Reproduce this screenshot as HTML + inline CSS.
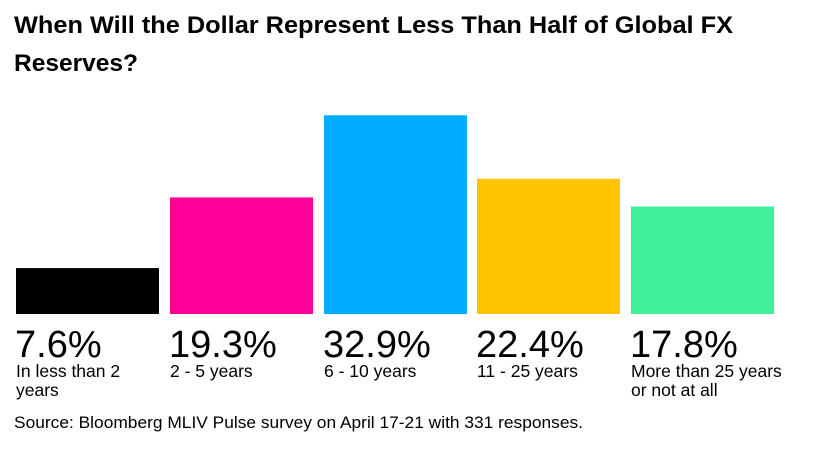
<!DOCTYPE html>
<html><head><meta charset="utf-8"><style>
body{margin:0;width:815px;height:445px;background:#fff;overflow:hidden;font-family:"Liberation Sans",sans-serif;}
</style></head><body>
<svg width="815" height="445" xmlns="http://www.w3.org/2000/svg">
<text x="14" y="33" font-size="24.5" font-weight="bold" fill="#000" textLength="719" lengthAdjust="spacingAndGlyphs">When Will the Dollar Represent Less Than Half of Global FX</text>
<text x="14" y="71" font-size="24.5" font-weight="bold" fill="#000" textLength="124" lengthAdjust="spacingAndGlyphs">Reserves?</text>
<g id="bars"></g>
<text x="14" y="428" font-size="16.5" fill="#000" textLength="569" lengthAdjust="spacingAndGlyphs">Source: Bloomberg MLIV Pulse survey on April 17-21 with 331 responses.</text>
</svg>
<script>
const categories=[["In less than 2","years"],["2 - 5 years"],["6 - 10 years"],["11 - 25 years"],["More than 25 years","or not at all"]];
const values=[7.6,19.3,32.9,22.4,17.8];
const valueLabels=["7.6%","19.3%","32.9%","22.4%","17.8%"];
const colors=["#000000","#ff0099","#00adff","#ffc300","#3ef09a"];
const NS="http://www.w3.org/2000/svg";
const g=document.getElementById('bars');
const base=314,pxPer=6.04,x0=16,step=153.8,bw=143;
function y(v){return base-v*pxPer;}
values.forEach((v,i)=>{
  const x=Math.round(x0+i*step);
  const r=document.createElementNS(NS,'rect');
  r.setAttribute('x',x);r.setAttribute('y',y(v));r.setAttribute('width',bw);r.setAttribute('height',base-y(v));r.setAttribute('fill',colors[i]);
  
  
  g.appendChild(r);
  const t=document.createElementNS(NS,'text');
  t.setAttribute('x',x-1);t.setAttribute('y',357);t.setAttribute('font-size','38');t.setAttribute('fill','#000');
  t.textContent=valueLabels[i];
  
  
  g.appendChild(t);
  categories[i].forEach((line,j)=>{
    const c=document.createElementNS(NS,'text');
    c.setAttribute('x',x);c.setAttribute('y',377+j*19);c.setAttribute('font-size','17.5');c.setAttribute('fill','#000');
    c.textContent=line;
    
    
    g.appendChild(c);
  });
});
</script>
</body></html>
